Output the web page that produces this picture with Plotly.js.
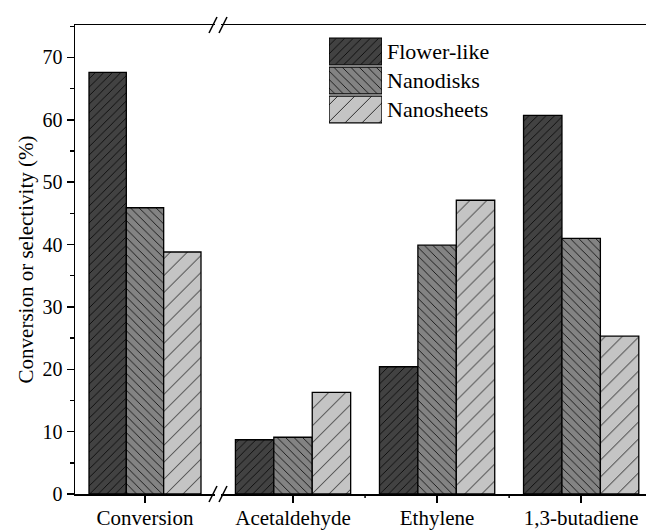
<!DOCTYPE html>
<html>
<head>
<meta charset="utf-8">
<script src="https://cdn.plot.ly/plotly-3.0.1.min.js"></script>
<style>html,body{margin:0;padding:0;background:#fff;}</style>
</head>
<body>
<div id="chart" style="width:646px;height:530px;"></div>
<script>
// Catalyst morphologies (series)
const seriesNames = ['Flower-like', 'Nanodisks', 'Nanosheets'];

// Left panel: ethanol conversion
const conversionCategory = ['Conversion'];
const conversionValues = [67.6, 45.9, 38.8];

// Right panel: product selectivities
const productCategories = ['Acetaldehyde', 'Ethylene', '1,3-butadiene'];
const flowerSelectivity = [8.7, 20.4, 60.7];
const diskSelectivity = [9.1, 39.9, 41.0];
const sheetSelectivity = [16.3, 47.1, 25.3];
const selectivityBySeries = [flowerSelectivity, diskSelectivity, sheetSelectivity];

const yTicks = [0, 10, 20, 30, 40, 50, 60, 70];

// Appearance of each series
const looks = [
  {fill: '#424242', shape: '/',  size: 6,  solidity: 0.13},
  {fill: '#838383', shape: '\\', size: 6,  solidity: 0.13},
  {fill: '#c4c4c4', shape: '/',  size: 12, solidity: 0.065}
];

const FONT = 'Liberation Serif';
const W = 646, H = 530;
const M = {l: 75, r: 0, t: 25, b: 36};
const plotW = W - M.l - M.r, plotH = H - M.t - M.b;
const px = x => (x - M.l) / plotW;          // pixel -> paper x
const py = y => (H - M.b - y) / plotH;      // pixel -> paper y

function markerFor(i) {
  const s = looks[i];
  return {
    color: s.fill,
    line: {color: '#000', width: 1.3},
    pattern: {shape: s.shape, size: s.size, solidity: s.solidity,
              fgcolor: '#000', bgcolor: s.fill, fillmode: 'replace'}
  };
}

const traces = [];
seriesNames.forEach((name, i) => {
  traces.push({
    type: 'bar', name: name, x: conversionCategory, y: [conversionValues[i]],
    xaxis: 'x', yaxis: 'y', marker: markerFor(i), showlegend: false
  });
});
seriesNames.forEach((name, i) => {
  traces.push({
    type: 'bar', name: name, x: productCategories, y: selectivityBySeries[i],
    xaxis: 'x2', yaxis: 'y', marker: markerFor(i), showlegend: false
  });
});
// Legend keys: full-width swatches on their own small axes
seriesNames.forEach((name, i) => {
  traces.push({
    type: 'bar', orientation: 'h', name: name, y: [name], x: [1], width: 0.92,
    xaxis: 'x3', yaxis: 'y3', marker: markerFor(i), showlegend: false,
    hoverinfo: 'skip'
  });
});

const leftEnd = px(215), rightStart = px(221);

const xCommon = {
  showline: true, linecolor: '#000', linewidth: 1.5, mirror: true,
  ticks: 'outside', ticklen: 7, tickwidth: 1.5, tickcolor: '#000',
  ticklabelstandoff: -3,
  showgrid: false, zeroline: false, fixedrange: true,
  tickfont: {family: FONT, size: 21, color: '#000'}, anchor: 'y'
};

// Break marks on top and bottom axis lines
const breakMarks = [];
[494, 25].forEach(yl => {
  [213, 223].forEach(xc => {
    breakMarks.push({
      type: 'line', xref: 'paper', yref: 'paper',
      x0: px(xc - 4), y0: py(yl + 8), x1: px(xc + 4), y1: py(yl - 8),
      line: {color: '#000', width: 1.5}
    });
  });
});
// Short ticks between the product categories
const boundaryTicks = [0.5, 1.5].map(v => ({
  type: 'line', xref: 'x2', yref: 'paper',
  x0: v, x1: v, y0: 0, y1: -4 / plotH,
  line: {color: '#000', width: 1.5}
}));

const layout = {
  width: W, height: H,
  margin: M,
  paper_bgcolor: '#fff', plot_bgcolor: 'rgba(0,0,0,0)',
  barmode: 'group', bargap: 0.2, bargroupgap: 0,
  showlegend: false,
  font: {family: FONT, color: '#000'},
  xaxis: Object.assign({}, xCommon, {domain: [0, leftEnd], range: [-0.5, 0.5]}),
  xaxis2: Object.assign({}, xCommon, {domain: [rightStart, 1], range: [-0.5, 2.45]}),
  yaxis: {
    domain: [0, 1], anchor: 'x', range: [0, 75.2],
    tickvals: yTicks, ticks: 'outside', ticklen: 7, tickwidth: 1.5, tickcolor: '#000',
    minor: {dtick: 5, tick0: 0, ticks: 'outside', ticklen: 4, tickwidth: 1.5, tickcolor: '#000'},
    showline: true, linecolor: '#000', linewidth: 1.5, mirror: false,
    showgrid: false, zeroline: false, fixedrange: true,
    tickfont: {family: FONT, size: 20, color: '#000'},
    title: {text: 'Conversion or selectivity (%)', font: {family: FONT, size: 21, color: '#000'}, standoff: 3}
  },
  xaxis3: {
    domain: [px(329), px(382)], anchor: 'y3', range: [0, 1],
    visible: false, fixedrange: true
  },
  yaxis3: {
    domain: [py(124), py(37)], anchor: 'x3', side: 'right',
    autorange: 'reversed', type: 'category', ticklabelstandoff: 4,
    showline: false, ticks: '', showgrid: false, zeroline: false, fixedrange: true,
    tickfont: {family: FONT, size: 22, color: '#000'}
  },
  shapes: breakMarks.concat(boundaryTicks)
};

Plotly.newPlot('chart', traces, layout, {displayModeBar: false, staticPlot: true});
</script>
</body>
</html>
